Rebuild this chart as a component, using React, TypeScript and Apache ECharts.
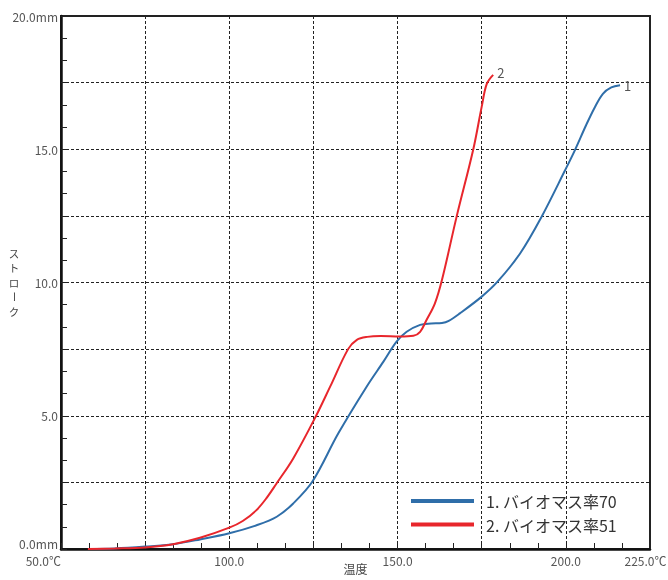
import React, { useEffect, useRef } from "react";
import * as echarts from "echarts";

const seriesNames = ["1. バイオマス率70", "2. バイオマス率51"];
const endLabels = ["1", "2"];

const blueTemp = [58, 66, 75, 83.3, 91.3, 100, 108.1, 114.1, 119, 124.7, 132.4, 140.8, 145.8, 149.7, 152.7, 156.7, 160, 163.2, 165.2, 168.5, 175, 179.7, 186.4, 192.8, 199.8, 202.7, 206, 208.5, 211, 213.5, 216.1];
const blueStroke = [0, 0.02, 0.09, 0.18, 0.36, 0.59, 0.89, 1.21, 1.71, 2.53, 4.34, 6.09, 7.03, 7.78, 8.15, 8.41, 8.46, 8.48, 8.56, 8.84, 9.47, 10.03, 11.09, 12.47, 14.22, 14.97, 15.9, 16.55, 17.08, 17.32, 17.4];

const redTemp = [58, 66, 75, 83.3, 91.3, 100, 104, 108, 111, 114, 119, 125.8, 130, 135.3, 137.9, 141, 145, 150.7, 154.7, 156.7, 158.6, 161.1, 163.2, 167.6, 172.5, 175, 176.5, 178.4];
const redStroke = [0, 0.02, 0.06, 0.18, 0.42, 0.8, 1.05, 1.45, 1.9, 2.45, 3.4, 5.0, 6.1, 7.5, 7.85, 7.96, 7.99, 7.97, 8.0, 8.15, 8.59, 9.22, 10.1, 12.5, 15.0, 16.6, 17.45, 17.79];

const xTickLabels: Record<number, string> = { 50: "50.0℃", 100: "100.0", 150: "150.0", 200: "200.0", 225: "{m|225.0℃}" };
const yTickLabels: Record<number, string> = { 0: "0.0mm", 5: "5.0", 10: "10.0", 15: "15.0", 20: "20.0mm" };

const colors = ["#2f6ea9", "#e8262c"];
const FONT = "'Noto Sans CJK JP', 'Noto Sans', sans-serif";

function zip(a: number[], b: number[]) {
  return a.map((v, i) => [v, b[i]]);
}

export default function App() {
  const ref = useRef<HTMLDivElement>(null);
  useEffect(() => {
    if (!ref.current) return;
    const chart = echarts.init(ref.current, undefined, { renderer: "svg" });
    const dashed = { show: true, lineStyle: { color: "#222", width: 1, type: [3, 2] as any } };
    const yNameChars = ["ス", "ト", "ロ", "ー", "ク"];
    chart.setOption({
      animation: false,
      textStyle: { fontFamily: FONT },
      grid: {
        left: 61, right: 18, top: 16, bottom: 31,
        outerBoundsMode: "none",
        containLabel: false,
        show: true, borderColor: "#222", borderWidth: 2, backgroundColor: "transparent",
      },
      legend: {
        orient: "vertical",
        left: 411,
        top: 493,
        padding: 0,
        icon: "rect",
        itemWidth: 63,
        itemHeight: 4,
        itemGap: 7.5,
        textStyle: { fontSize: 16, color: "#333", lineHeight: 16, fontFamily: FONT, padding: [0, 0, 0, 7] },
        data: seriesNames,
      },
      xAxis: [
        {
          type: "value",
          min: 50,
          max: 225,
          interval: 25 / 3,
          name: "温度",
          nameLocation: "middle",
          nameGap: 13,
          nameMoveOverlap: false,
          nameTextStyle: { fontSize: 12, lineHeight: 13, color: "#444" },
          axisLine: { show: true, lineStyle: { color: "#111", width: 2.5 } },
          axisTick: { show: true, inside: true, length: 6, lineStyle: { color: "#222", width: 1 } },
          splitLine: { show: false },
          axisLabel: {
            color: "#555",
            fontSize: 12,
            margin: 5,
            showMinLabel: true,
            showMaxLabel: true,
            alignMinLabel: "right",
            rich: { m: { fontSize: 12, color: "#555", padding: [0, 9, 0, 0], fontFamily: FONT } },
            formatter: (v: number) => xTickLabels[Math.round(v * 100) / 100] ?? "",
          },
        },
        {
          type: "value",
          min: 50,
          max: 225,
          interval: 25,
          position: "top",
          axisLine: { show: false },
          axisTick: { show: false },
          axisLabel: { show: false },
          splitLine: dashed,
        },
      ],
      yAxis: [
        {
          type: "value",
          min: 0,
          max: 20,
          interval: 5 / 6,
          axisLine: { show: true, lineStyle: { color: "#111", width: 2.5 } },
          axisTick: { show: true, inside: true, length: 6, lineStyle: { color: "#222", width: 1 } },
          splitLine: { show: false },
          axisLabel: {
            color: "#555",
            fontSize: 12,
            margin: 3,
            showMinLabel: true,
            showMaxLabel: true,
            verticalAlignMinLabel: "bottom",
            formatter: (v: number) => yTickLabels[Math.round(v * 100) / 100] ?? "",
          },
        },
        {
          type: "value",
          min: 0,
          max: 20,
          interval: 2.5,
          position: "right",
          axisLine: { show: false },
          axisTick: { show: false },
          axisLabel: { show: false },
          splitLine: dashed,
        },
      ],
      graphic: yNameChars.map((c, i) => ({
        type: "text",
        x: 14,
        y: 253 + i * 14.6,
        rotation: c === "ー" ? -Math.PI / 2 : 0,
        style: { text: c, fontSize: 10.5, lineHeight: 10.5, fill: "#444", fontFamily: FONT, align: "center", verticalAlign: "middle" },
      })),
      series: [
        {
          name: seriesNames[0],
          type: "line",
          xAxisIndex: 0,
          yAxisIndex: 0,
          data: zip(blueTemp, blueStroke),
          smooth: 0.35,
          showSymbol: false,
          lineStyle: { color: colors[0], width: 2 },
          itemStyle: { color: colors[0] },
          endLabel: { show: true, formatter: endLabels[0], color: "#555", fontSize: 13, distance: 4 },
        },
        {
          name: seriesNames[1],
          type: "line",
          xAxisIndex: 0,
          yAxisIndex: 0,
          data: zip(redTemp, redStroke),
          smooth: 0.35,
          showSymbol: false,
          lineStyle: { color: colors[1], width: 2 },
          itemStyle: { color: colors[1] },
          endLabel: { show: true, formatter: endLabels[1], color: "#555", fontSize: 13, distance: 4, offset: [0, -2] },
        },
      ],
    });
    return () => chart.dispose();
  }, []);
  return <div ref={ref} style={{ position: "fixed", left: 0, top: 0, width: 668, height: 580 }} />;
}
